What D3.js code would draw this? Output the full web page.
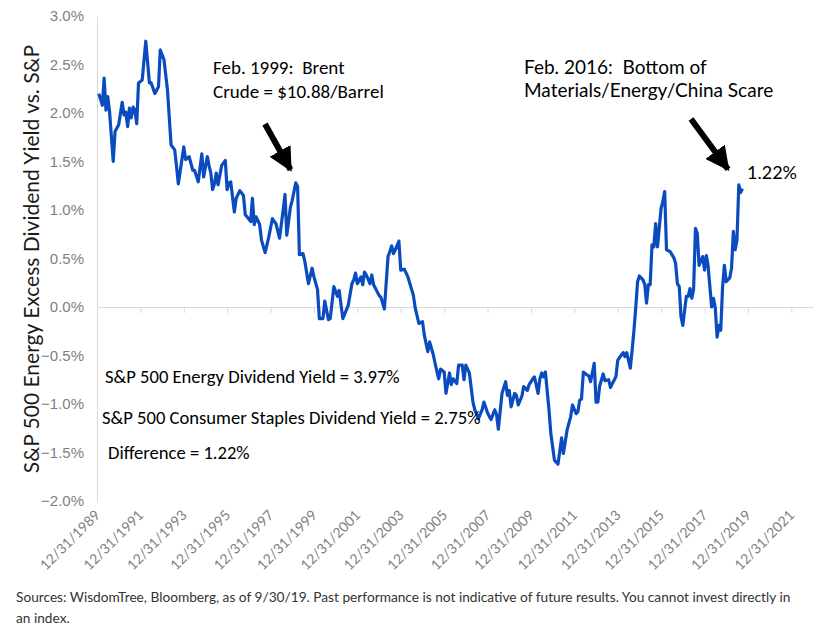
<!DOCTYPE html>
<html>
<head>
	<meta charset="utf-8">
	<title>Energy Excess Dividend Yield</title>
	<style>
	body { margin: 0; background: #fff; }
	.tick text { fill: #7f7f7f; }
	text { white-space: pre; }
	</style>
</head>
<body>
	<div id="vis"></div>

	<script src="https://d3js.org/d3.v7.min.js"></script>
	<script>
		// monthly points (month end), excess yield in %
		var months = [
			"1990-01","1990-03","1990-04","1990-05","1990-06","1990-07","1990-09","1990-10","1990-12",
			"1991-02","1991-03","1991-04","1991-05","1991-06","1991-07","1991-08","1991-09","1991-10","1991-11",
			"1992-01","1992-03","1992-05","1992-06","1992-08","1992-10","1992-11",
			"1993-01","1993-03","1993-05","1993-07","1993-08","1993-09","1993-12",
			"1994-01","1994-03","1994-05","1994-06","1994-08","1994-10","1994-11",
			"1995-01","1995-02","1995-03","1995-04","1995-05","1995-06","1995-07","1995-09","1995-11","1995-12",
			"1996-01","1996-02","1996-04","1996-05","1996-07","1996-09","1996-10","1996-11",
			"1997-01","1997-02","1997-03","1997-04","1997-06","1997-07","1997-09","1997-11",
			"1998-01","1998-03","1998-05","1998-07","1998-08","1998-09","1998-11","1998-12",
			"1999-02","1999-03","1999-04","1999-06","1999-07","1999-09","1999-11","1999-12",
			"2000-02","2000-03","2000-05","2000-06","2000-08","2000-09","2000-11",
			"2001-01","2001-02","2001-04","2001-07","2001-09","2001-10","2001-11","2001-12",
			"2002-02","2002-03","2002-04","2002-05","2002-07","2002-08","2002-09","2002-12",
			"2003-01","2003-03","2003-05","2003-06","2003-07","2003-08","2003-09","2003-11","2003-12",
			"2004-02","2004-04","2004-07","2004-08","2004-10","2004-12",
			"2005-01","2005-03","2005-04","2005-06","2005-07","2005-09","2005-10","2005-12",
			"2006-01","2006-03","2006-04","2006-05","2006-07","2006-08","2006-10","2006-11","2006-12",
			"2007-02","2007-04","2007-05","2007-07","2007-09","2007-10","2007-12",
			"2008-01","2008-02","2008-04","2008-05","2008-06","2008-08","2008-10","2008-11","2008-12",
			"2009-01","2009-03","2009-04","2009-05","2009-07","2009-08","2009-10","2009-11",
			"2010-01","2010-02","2010-04","2010-05","2010-06","2010-07","2010-08","2010-10","2010-11",
			"2011-01","2011-03","2011-05","2011-06","2011-08","2011-10","2011-11",
			"2012-01","2012-02","2012-03","2012-04","2012-05","2012-07","2012-08","2012-09","2012-11","2012-12",
			"2013-01","2013-02","2013-04","2013-05","2013-07","2013-08","2013-09","2013-11","2013-12",
			"2014-01","2014-03","2014-04","2014-05","2014-07","2014-08","2014-09","2014-10","2014-11","2014-12",
			"2015-02","2015-03","2015-04","2015-05","2015-06","2015-07","2015-08","2015-09","2015-10","2015-12",
			"2016-01","2016-02","2016-03","2016-05","2016-07","2016-08","2016-09","2016-10","2016-11","2016-12",
			"2017-01","2017-02","2017-03","2017-04","2017-05","2017-06","2017-07","2017-08","2017-09","2017-11","2017-12",
			"2018-01","2018-02","2018-04","2018-05","2018-06","2018-07","2018-08","2018-09","2018-10","2018-11","2018-12",
			"2019-02","2019-03","2019-04","2019-05","2019-06","2019-07","2019-08","2019-09"
		];
		var excessYield = [
			2.20,2.08,2.36,2.03,2.17,2.01,1.50,1.81,1.88,
			2.11,1.98,2.01,1.86,2.05,1.95,2.06,2.03,1.89,2.31,
			2.34,2.74,2.31,2.31,2.20,2.27,2.65,
			2.55,2.24,1.67,1.62,1.45,1.27,1.65,
			1.52,1.55,1.41,1.41,1.29,1.58,1.34,
			1.55,1.46,1.38,1.21,1.27,1.38,1.26,1.46,1.51,1.21,
			1.28,1.29,0.98,1.12,1.20,1.15,0.95,0.93,
			0.88,1.12,0.85,0.93,0.85,0.69,0.56,0.72,
			0.91,0.86,0.71,1.00,1.16,0.74,1.03,1.10,
			1.28,1.24,0.54,0.55,0.47,0.24,0.40,0.31,
			0.18,-0.12,-0.12,0.06,-0.13,-0.12,0.21,
			0.11,0.17,-0.12,0.02,0.24,0.28,0.35,0.24,
			0.31,0.23,0.36,0.33,0.24,0.33,0.23,0.12,
			0.10,-0.02,0.52,0.57,0.63,0.55,0.59,0.68,0.38,
			0.39,0.31,0.12,-0.01,-0.17,-0.15,
			-0.29,-0.46,-0.36,-0.49,-0.58,-0.74,-0.64,-0.67,
			-0.89,-0.68,-0.80,-0.74,-0.79,-0.60,-0.60,-0.75,-0.60,
			-0.68,-0.98,-1.06,-1.15,-1.06,-0.98,-1.09,
			-1.13,-1.16,-1.06,-1.11,-1.26,-0.89,-0.77,-0.91,-0.86,
			-1.03,-0.89,-0.91,-1.01,-0.92,-0.82,-0.86,-0.80,
			-0.74,-0.72,-0.89,-0.74,-0.68,-0.72,-0.67,-1.06,-1.30,
			-1.58,-1.62,-1.35,-1.51,-1.27,-1.13,-1.01,
			-1.10,-1.08,-0.96,-0.95,-0.67,-0.70,-0.71,-0.77,-0.58,-0.98,
			-0.98,-0.82,-0.69,-0.76,-0.75,-0.83,-0.79,-0.72,-0.55,
			-0.52,-0.47,-0.51,-0.47,-0.63,-0.44,-0.24,0.00,0.26,0.32,
			0.28,0.23,0.04,0.23,0.23,0.64,0.62,0.86,0.62,1.02,
			1.09,1.19,0.59,0.57,0.51,0.45,0.24,0.21,-0.10,-0.19,
			-0.03,0.11,0.11,0.19,0.09,0.18,0.81,0.76,0.43,0.52,0.38,
			0.53,0.43,0.00,0.09,-0.01,-0.31,-0.19,-0.24,0.21,0.43,0.26,
			0.30,0.40,0.78,0.59,0.69,1.26,1.18,1.22
		];
		var yTicks = [-2, -1.5, -1, -0.5, 0, 0.5, 1, 1.5, 2, 2.5, 3];
		var tickYears = d3.range(1989, 2022, 2);

		var notes = [
			"S&P 500 Energy Dividend Yield = 3.97%",
			"S&P 500 Consumer Staples Dividend Yield = 2.75%",
			"Difference = 1.22%"
		];

		var width = 837, height = 630;
		var svg = d3.select("#vis").append("svg")
			.attr("width", width)
			.attr("height", height)
			.style("font-family", "Lato, 'Noto Sans', sans-serif");

		var parseMonth = d3.timeParse("%Y-%m");
		var data = months.map(function(m, i) {
			var d = d3.timeDay.offset(d3.timeMonth.offset(parseMonth(m), 1), -1);
			return {date: d, value: excessYield[i]};
		});

		var x = d3.scaleTime()
			.domain([new Date(1989, 11, 31), new Date(2022, 11, 31)])
			.range([97, 813]);
		var y = d3.scaleLinear()
			.domain([-2, 3])
			.range([501, 16]);

		// y axis: labels only, plus the light vertical line
		var yAxis = svg.append("g")
			.attr("transform", "translate(97,0)")
			.call(d3.axisLeft(y).tickValues(yTicks).tickSize(0).tickPadding(13)
				.tickFormat(function(d) { return d3.format(".1f")(d) + "%"; }));
		yAxis.select(".domain").attr("stroke", "#d9d9d9");
		yAxis.selectAll("text").style("font-size", "15px");

		// zero line with tick marks hanging down
		var xAxis = svg.append("g")
			.attr("transform", "translate(0," + y(0) + ")")
			.call(d3.axisBottom(x)
				.tickValues(tickYears.map(function(yr) { return new Date(yr, 11, 31); }))
				.tickSize(6).tickSizeOuter(0).tickFormat(""));
		xAxis.select(".domain").attr("stroke", "#d9d9d9");
		xAxis.selectAll("line").attr("stroke", "#d9d9d9");

		// date labels sit at the bottom of the plot
		svg.append("g").selectAll("text")
			.data(tickYears)
			.join("text")
			.attr("transform", function(yr) {
				return "translate(" + (x(new Date(yr, 11, 31)) + 4) + ",516) rotate(-45)";
			})
			.attr("text-anchor", "end")
			.attr("fill", "#7f7f7f")
			.style("font-size", "14px")
			.text(function(yr) { return "12/31/" + yr; });

		var line = d3.line()
			.x(function(d) { return x(d.date); })
			.y(function(d) { return y(d.value); });

		svg.append("path")
			.datum(data)
			.attr("fill", "none")
			.attr("stroke", "#0a4cc0")
			.attr("stroke-width", 3.2)
			.attr("stroke-linejoin", "round")
			.attr("d", line);

		// y axis title
		svg.append("text")
			.attr("transform", "translate(39,259) rotate(-90)")
			.attr("text-anchor", "middle")
			.attr("fill", "#1a1a1a")
			.style("font-size", "21px")
			.text("S&P 500 Energy Excess Dividend Yield vs. S&P");

		// arrows
		svg.append("defs").append("marker")
			.attr("id", "head")
			.attr("viewBox", "0 0 10 10")
			.attr("refX", 9).attr("refY", 5)
			.attr("markerWidth", 4).attr("markerHeight", 4)
			.attr("markerUnits", "strokeWidth")
			.attr("orient", "auto")
			.append("path")
			.attr("d", "M0,0 L10,5 L0,10 Z")
			.attr("fill", "#000");

		var arrows = [
			{from: [265, 124], to: [294, 176]},
			{from: [691, 119], to: [733, 176]}
		];
		svg.selectAll(".arrow")
			.data(arrows)
			.join("line")
			.attr("class", "arrow")
			.attr("x1", function(d) { return d.from[0]; })
			.attr("y1", function(d) { return d.from[1]; })
			.attr("x2", function(d) { return d.to[0] - (d.to[0] - d.from[0]) * 0.12; })
			.attr("y2", function(d) { return d.to[1] - (d.to[1] - d.from[1]) * 0.12; })
			.attr("stroke", "#000")
			.attr("stroke-width", 6)
			.attr("marker-end", "url(#head)");

		// callouts
		var calibri = "Carlito, 'Liberation Sans', 'Open Sans', sans-serif";
		svg.append("text").attr("x", 213).attr("y", 74)
			.style("font-family", calibri).style("font-size", "19px").attr("fill", "#000")
			.text("Feb. 1999:  Brent");
		svg.append("text").attr("x", 213).attr("y", 98)
			.style("font-family", calibri).style("font-size", "19px").attr("fill", "#000")
			.text("Crude = $10.88/Barrel");

		svg.append("text").attr("x", 524).attr("y", 74)
			.style("font-size", "19px").attr("fill", "#000")
			.text("Feb. 2016:  Bottom of");
		svg.append("text").attr("x", 524).attr("y", 97)
			.style("font-size", "19px").attr("fill", "#000")
			.text("Materials/Energy/China Scare");

		svg.append("text").attr("x", 747).attr("y", 179)
			.style("font-size", "18px").attr("fill", "#000")
			.text("1.22%");

		svg.selectAll(".note")
			.data(notes)
			.join("text")
			.attr("class", "note")
			.attr("x", function(d, i) { return [105, 102, 108][i]; })
			.attr("y", function(d, i) { return [383, 424, 459][i]; })
			.style("font-family", calibri)
			.style("font-size", "18.6px")
			.attr("fill", "#000")
			.text(function(d) { return d; });

		// footnote
		svg.append("text").attr("x", 16).attr("y", 602)
			.style("font-size", "13.7px").attr("fill", "#333")
			.text("Sources: WisdomTree, Bloomberg, as of 9/30/19. Past performance is not indicative of future results. You cannot invest directly in");
		svg.append("text").attr("x", 16).attr("y", 623)
			.style("font-size", "13.7px").attr("fill", "#333")
			.text("an index.");
	</script>
</body>
</html>
